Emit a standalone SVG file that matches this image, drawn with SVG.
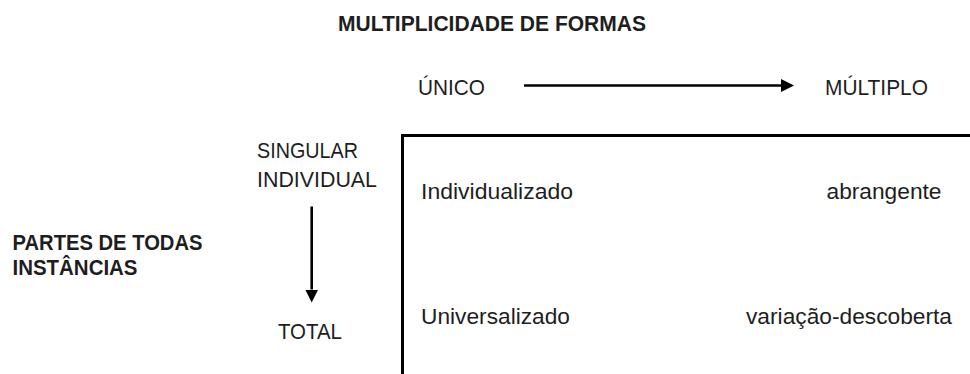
<svg xmlns="http://www.w3.org/2000/svg" width="970" height="374" viewBox="0 0 970 374">
<defs>
<style>
text{font-family:"Liberation Sans",Arial,sans-serif;fill:#1e1e1e;font-size:22px}
.b{font-weight:bold}
.ln{stroke:#000;stroke-width:2.6;fill:none}
</style>
<marker id="ah" markerUnits="userSpaceOnUse" markerWidth="14" markerHeight="13" refX="0" refY="6.5" orient="auto" viewBox="0 0 14 13">
<path d="M0,0 L13,6.5 L0,13 Z" fill="#000"/>
</marker>
</defs>
<rect width="970" height="374" fill="#fff"/>
<g id="title"><text class="b" x="338" y="31" font-size="21" textLength="308" lengthAdjust="spacingAndGlyphs">MULTIPLICIDADE DE FORMAS</text></g>
<g id="unico"><text x="418" y="95" textLength="67" lengthAdjust="spacingAndGlyphs">ÚNICO</text></g>
<g id="multiplo"><text x="825" y="95" textLength="103" lengthAdjust="spacingAndGlyphs">MÚLTIPLO</text></g>
<g id="singular"><text x="257" y="158" textLength="101" lengthAdjust="spacingAndGlyphs">SINGULAR</text><text x="257" y="187" textLength="120" lengthAdjust="spacingAndGlyphs">INDIVIDUAL</text></g>
<g id="partes"><text class="b" x="12.5" y="250" font-size="23" textLength="190" lengthAdjust="spacingAndGlyphs">PARTES DE TODAS</text><text class="b" x="12.5" y="275" font-size="23" textLength="125" lengthAdjust="spacingAndGlyphs">INSTÂNCIAS</text></g>
<g id="total"><text x="278" y="339" textLength="64" lengthAdjust="spacingAndGlyphs">TOTAL</text></g>
<g id="matrix">
<rect x="402.5" y="135.5" width="580" height="260" fill="none" stroke="#000" stroke-width="3"/>
<text x="421" y="199" textLength="152" lengthAdjust="spacingAndGlyphs">Individualizado</text>
<text x="826.5" y="199" textLength="115" lengthAdjust="spacingAndGlyphs">abrangente</text>
<text x="421" y="324" textLength="149" lengthAdjust="spacingAndGlyphs">Universalizado</text>
<text x="746" y="324" textLength="206" lengthAdjust="spacingAndGlyphs">variação-descoberta</text>
</g>
<g id="connectors">
<line class="ln" x1="524" y1="85.5" x2="781" y2="85.5" marker-end="url(#ah)"/>
<line class="ln" x1="311.7" y1="206.5" x2="311.7" y2="289.5" marker-end="url(#ah)"/>
</g>
</svg>
